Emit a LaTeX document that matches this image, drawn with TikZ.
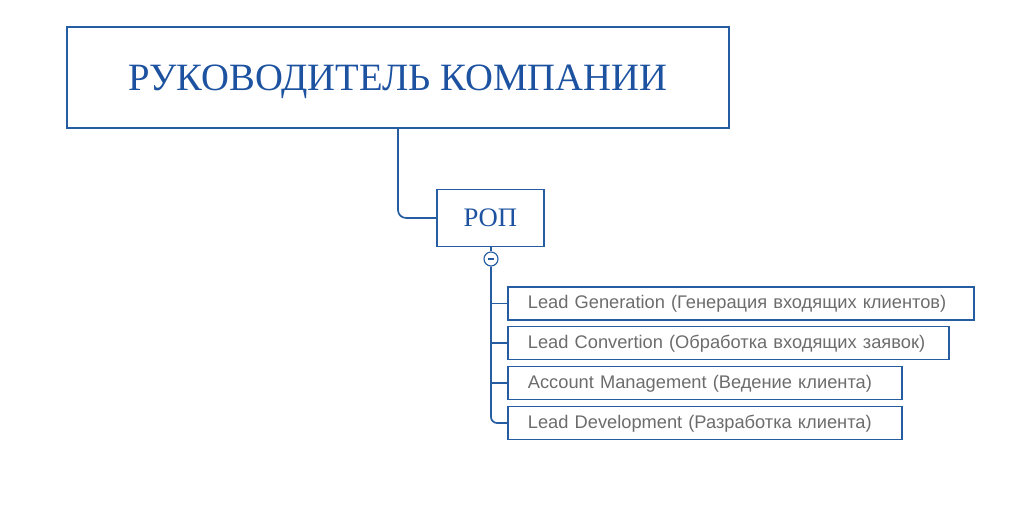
\documentclass[tikz,border=0pt]{standalone}
\usepackage{fontspec}
\setmainfont{Liberation Serif}
\newfontfamily\lsans{Liberation Sans}
\usepackage{tikz}
\usepackage{xcolor}
\usetikzlibrary{positioning, calc}
\definecolor{cLine}{RGB}{38,92,162}
\definecolor{cTitle}{RGB}{28,82,160}
\definecolor{cGray}{RGB}{108,108,108}
\tikzset{
	headbox/.style ={rectangle, draw=cLine, line width=1.3pt, text=cTitle, align=center, fill=white, text depth=0pt},
	taskbox/.style ={rectangle, draw=cLine, line width=1.3pt, minimum height=0.825cm, text=cGray, anchor=west, align=left, inner xsep=0.45cm, text width=#1, font=\lsans\fontsize{13}{15}\selectfont, text depth=0.08cm},
	fold/.style    ={circle, draw=cLine, line width=0.8pt, minimum size=0.35cm, inner sep=0pt, fill=white},
	link/.style    ={cLine, line width=1.2pt},
}
\begin{document}
\begin{tikzpicture}
			\useasboundingbox (0,0) rectangle (25.6,13);
			\node[headbox, minimum width=16.55cm, minimum height=2.525cm, font=\fontsize{27.5}{30}\selectfont] (head) at (9.95,11.06) {РУКОВОДИТЕЛЬ КОМПАНИИ};
			\node[headbox, minimum width=2.675cm, minimum height=1.425cm, font=\fontsize{19}{22}\selectfont] (rop) at (12.26,7.55) {РОП};
			\draw[link, rounded corners=0.2cm] (head.south) |- (rop.west);
			\node[fold] (fold) at (12.275,6.525) {};
			\draw[link] (rop.south -| fold) -- (fold.north);
			\draw[cLine, line width=0.8pt] ([xshift=-0.08cm]fold.center) -- ([xshift=0.08cm]fold.center);
			% sub-tasks of the sales head
			\node[taskbox=10.75cm]  (lg) at (12.675,5.4125) {\hspace*{0.05cm}Lead Generation (Генерация входящих клиентов)};
			\node[taskbox=10.125cm] (lc) at (12.675,4.425) {\hspace*{0.05cm}Lead Convertion (Обработка входящих заявок)};
			\node[taskbox=8.95cm]   (am) at (12.675,3.425) {\hspace*{0.05cm}Account Management (Ведение клиента)};
			\node[taskbox=8.95cm]   (ld) at (12.675,2.425) {\hspace*{0.05cm}Lead Development (Разработка клиента)};
			\draw[link, rounded corners=0.15cm] (fold.south) |- (ld.west);
			\foreach \t in {lg, lc, am} {
				\draw[link] (fold.south |- \t.west) -- (\t.west);
			}
		\end{tikzpicture}
\end{document}
